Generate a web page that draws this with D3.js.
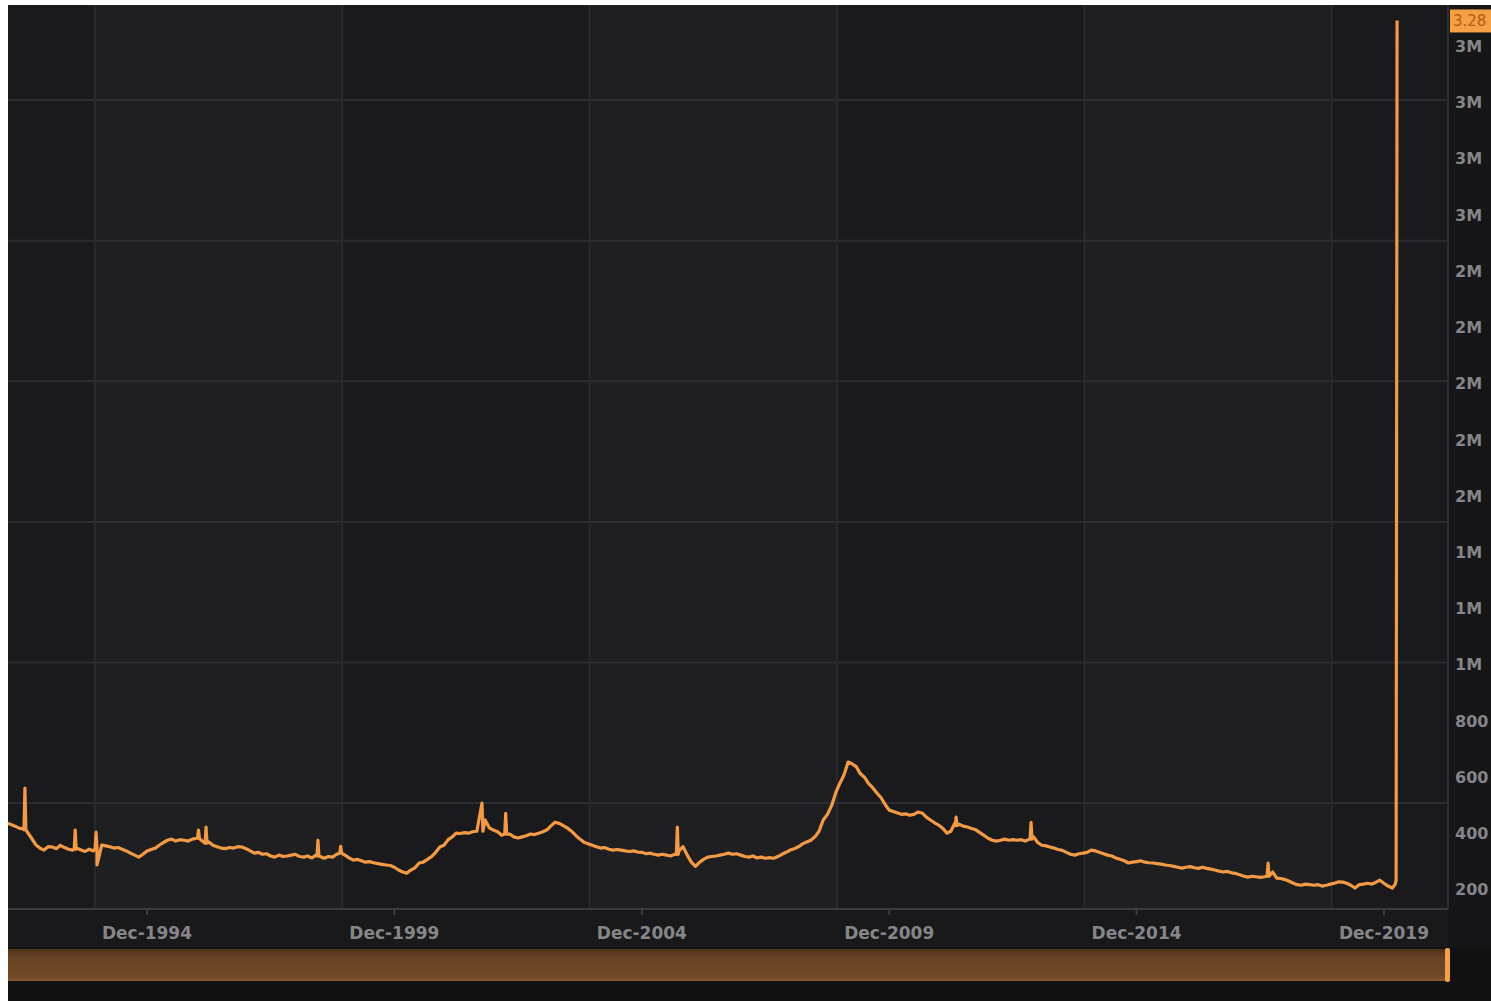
<!DOCTYPE html>
<html><head><meta charset="utf-8">
<script src="https://cdn.jsdelivr.net/npm/d3@7"></script>
<style>
html,body{margin:0;padding:0;background:#fff;overflow:hidden;}
svg{display:block;}
</style></head><body>
<svg id="c" width="1491" height="1001"></svg>
<script>
// ---------- DATA (weekly initial jobless claims, thousands) ----------
const monthStart = "1992-02";
const monthlyClaims = [
  /*1992*/ 429,424,418,411,408,397,375,352,340,333,345,
  /*1993*/ 344,338,350,342,336,333,340,333,328,336,330,345,
  /*1994*/ 351,348,345,340,342,336,330,322,315,308,318,330,
  /*1995*/ 335,340,350,360,368,372,365,370,368,365,372,375,
  /*1996*/ 370,358,362,350,345,340,338,342,340,345,344,338,
  /*1997*/ 330,322,325,318,320,312,308,315,310,312,315,318,
  /*1998*/ 310,308,312,305,315,310,304,310,308,318,326,315,
  /*1999*/ 305,297,300,295,290,292,288,285,282,280,278,272,
  /*2000*/ 262,255,251,262,270,287,290,300,310,325,344,350,
  /*2001*/ 370,380,393,392,395,393,398,400,420,440,412,404,
  /*2002*/ 398,386,395,390,380,376,380,384,390,388,393,398,
  /*2003*/ 405,420,432,428,420,411,400,385,372,361,355,350,
  /*2004*/ 345,340,342,336,333,335,333,330,328,330,326,325,
  /*2005*/ 320,322,318,315,318,315,312,318,330,345,315,290,
  /*2006*/ 275,290,300,308,310,312,315,318,322,318,320,315,
  /*2007*/ 310,308,312,305,308,304,306,304,310,318,325,333,
  /*2008*/ 338,345,355,362,368,380,400,440,460,490,536,570,
  /*2009*/ 600,646,640,630,605,592,570,555,536,520,495,475,
  /*2010*/ 470,465,460,462,457,460,468,465,450,440,430,422,
  /*2011*/ 410,393,400,430,425,418,415,410,405,395,385,375,
  /*2012*/ 368,365,368,372,368,370,368,370,365,372,380,360,
  /*2013*/ 350,348,344,340,335,332,325,318,315,320,322,325,
  /*2014*/ 333,330,325,320,315,312,305,300,295,287,290,292,
  /*2015*/ 295,290,288,287,285,283,280,278,275,272,269,272,
  /*2016*/ 274,270,268,272,268,265,262,258,255,257,252,250,
  /*2017*/ 245,240,237,240,238,236,238,240,255,233,232,228,
  /*2018*/ 222,215,210,208,212,210,208,210,205,208,212,215,
  /*2019*/ 220,219,215,208,198,210,212,215,212,218,226,215,
  /*2020*/ 205,198
];
// single-week spikes: week, peak value, surrounding level
const spikeWeeks = ["1992-06-27","1993-07-03","1993-12-04","1995-12-30","1996-02-24","1998-05-30","1998-11-14","2001-09-22","2002-03-16","2005-09-03","2011-04-23","2012-10-27","2017-08-12"];
const spikePeaks = [553,404,397,404,415,368,346,500,464,415,450,432,287];
const spikeBase  = [405,336,338,375,358,312,322,400,390,318,420,372,240];
const dipWeeks = ["1993-12-11"];
const dipValues = [280];
// final weeks of the series
const lastWeeks  = ["2020-03-07","2020-03-14","2020-03-21"];
const lastClaims = [211,225,3283];
const lastLabel = "3.28";

// axis ticks / grid
const xTickDates = ["1994-12-15","1999-12-15","2004-12-15","2009-12-15","2014-12-15","2019-12-15"];
const xTickLabels = ["Dec-1994","Dec-1999","Dec-2004","Dec-2009","Dec-2014","Dec-2019"];
const xGridDates = ["1993-11-25","1998-11-25","2003-11-25","2008-11-25","2013-11-25","2018-11-25"];
const yTicks = [200,400,600,800,1000,1200,1400,1600,1800,2000,2200,2400,2600,2800,3000,3200];
const yGrid = [500,1000,1500,2000,2500,3000];
const xDomain = ["1992-02-23","2021-04-01"];
const yDomain = [127,3338];

// ---------- BUILD SERIES ----------
const parse = d3.utcParse("%Y-%m-%d");
const pts = [];
const [sy, sm] = monthStart.split("-").map(Number);
monthlyClaims.forEach((v,i)=>{
  const d = new Date(Date.UTC(sy, sm-1+i, 15));
  pts.push({d, v});
});
const DAY = 864e5;
spikeWeeks.forEach((s,i)=>{
  const d = parse(s);
  pts.push({d:new Date(+d-7*DAY), v:spikeBase[i]});
  pts.push({d, v:spikePeaks[i]});
  pts.push({d:new Date(+d+7*DAY), v:spikeBase[i]});
});
dipWeeks.forEach((s,i)=>pts.push({d:parse(s), v:dipValues[i]}));
lastWeeks.forEach((s,i)=>pts.push({d:parse(s), v:lastClaims[i]}));
const spikeTimes = spikeWeeks.concat(dipWeeks).map(s=>+parse(s));
const series = pts.filter(p=>{
  const isMonthly = p.d.getUTCDate()===15;
  if(!isMonthly) return true;
  return !spikeTimes.some(t=>Math.abs(+p.d - t) < 8*DAY);
}).sort((a,b)=>a.d-b.d);

// ---------- LAYOUT ----------
const L=8, R=1448, T=5, B=908;
const FONT = "DejaVu Sans, Verdana, sans-serif";
const svg = d3.select("#c");
const x = d3.scaleUtc().domain(xDomain.map(parse)).range([L,R]);
const y = d3.scaleLinear().domain(yDomain).range([B,T]);

const defs = svg.append("defs");
defs.append("clipPath").attr("id","clip").append("rect")
  .attr("x",L).attr("y",T).attr("width",R-L).attr("height",B-T);
const g1 = defs.append("linearGradient").attr("id","sb").attr("x1",0).attr("x2",0).attr("y1",0).attr("y2",1);
g1.append("stop").attr("offset","0%").attr("stop-color","#4e3119");
g1.append("stop").attr("offset","30%").attr("stop-color","#684324");
g1.append("stop").attr("offset","85%").attr("stop-color","#714926");
g1.append("stop").attr("offset","100%").attr("stop-color","#855830");
defs.append("filter").attr("id","glow").attr("x","-5%").attr("y","-5%").attr("width","110%").attr("height","110%")
  .append("feGaussianBlur").attr("stdDeviation",0.5);

// panel background
svg.append("rect").attr("x",L).attr("y",T).attr("width",1491-L).attr("height",1001-T).attr("fill","#141416");
// plot bands
const bandEdges = [x.domain()[0]].concat(xGridDates.map(parse)).concat([x.domain()[1]]);
for(let i=0;i<bandEdges.length-1;i++){
  svg.append("rect")
    .attr("x",x(bandEdges[i])).attr("y",T)
    .attr("width",x(bandEdges[i+1])-x(bandEdges[i])).attr("height",B-T)
    .attr("fill", i%2===0 ? "#1a1a1c" : "#1f1f21");
}
// horizontal grid
svg.append("g").selectAll("line").data(yGrid).join("line")
  .attr("x1",L).attr("x2",R).attr("y1",d=>y(d)).attr("y2",d=>y(d))
  .attr("stroke","#2c2d33").attr("stroke-width",2);
// vertical grid
svg.append("g").selectAll("line").data(xGridDates).join("line")
  .attr("x1",d=>x(parse(d))).attr("x2",d=>x(parse(d))).attr("y1",T).attr("y2",B)
  .attr("stroke","#29292e").attr("stroke-width",2);

// x-axis area
svg.append("rect").attr("x",L).attr("y",B).attr("width",R-L).attr("height",40).attr("fill","#19191b");
svg.append("line").attr("x1",L).attr("x2",R).attr("y1",B+1).attr("y2",B+1).attr("stroke","#3b3c40").attr("stroke-width",2);
svg.append("line").attr("x1",R).attr("x2",R).attr("y1",T).attr("y2",B+1).attr("stroke","#2e2f33").attr("stroke-width",2);
const xa = svg.append("g");
xa.selectAll("line").data(xTickDates).join("line")
  .attr("x1",d=>x(parse(d))).attr("x2",d=>x(parse(d))).attr("y1",B+1).attr("y2",B+7)
  .attr("stroke","#3b3c40").attr("stroke-width",2);
xa.selectAll("text").data(xTickDates).join("text")
  .attr("x",d=>x(parse(d))).attr("y",B+31)
  .attr("text-anchor","middle")
  .attr("font-family",FONT)
  .attr("font-size",17).attr("font-weight",700)
  .attr("fill","#86868a")
  .text((d,i)=>xTickLabels[i]);

// right axis column
svg.append("rect").attr("x",R+1).attr("y",T).attr("width",1491-R).attr("height",B-T+40).attr("fill","#161618");
const fmt = v => v>=1000 ? Math.round(v/1000)+"M" : String(v);
svg.append("g").selectAll("text").data(yTicks).join("text")
  .attr("x",R+7).attr("y",d=>y(d)+8)
  .attr("font-family",FONT)
  .attr("font-size",16).attr("font-weight",700)
  .attr("fill","#86868a")
  .text(fmt);

// line
const line = d3.line().x(d=>x(d.d)).y(d=>y(d.v)).curve(d3.curveLinear);
svg.append("path").datum(series)
  .attr("clip-path","url(#clip)")
  .attr("d",line).attr("fill","none")
  .attr("stroke","#f29a45").attr("stroke-width",3.2).attr("stroke-linejoin","round")
  .attr("filter","url(#glow)");

// last value box
const lv = lastClaims[lastClaims.length-1];
svg.append("rect").attr("x",R+2).attr("y",y(lv)-11).attr("width",60).attr("height",23).attr("fill","#f5a046");
svg.append("text").attr("x",R+5).attr("y",y(lv)+6)
  .attr("font-family",FONT).attr("font-size",15)
  .attr("fill","#b75a12").text(lastLabel);

// scrollbar
svg.append("rect").attr("x",L).attr("y",947).attr("width",1491-L).attr("height",54).attr("fill","#121213");
svg.append("rect").attr("x",L).attr("y",949).attr("width",R-L).attr("height",32).attr("fill","url(#sb)");
svg.append("rect").attr("x",R-3).attr("y",948).attr("width",5).attr("height",34).attr("rx",2).attr("fill","#f5a04b");
</script></body></html>
